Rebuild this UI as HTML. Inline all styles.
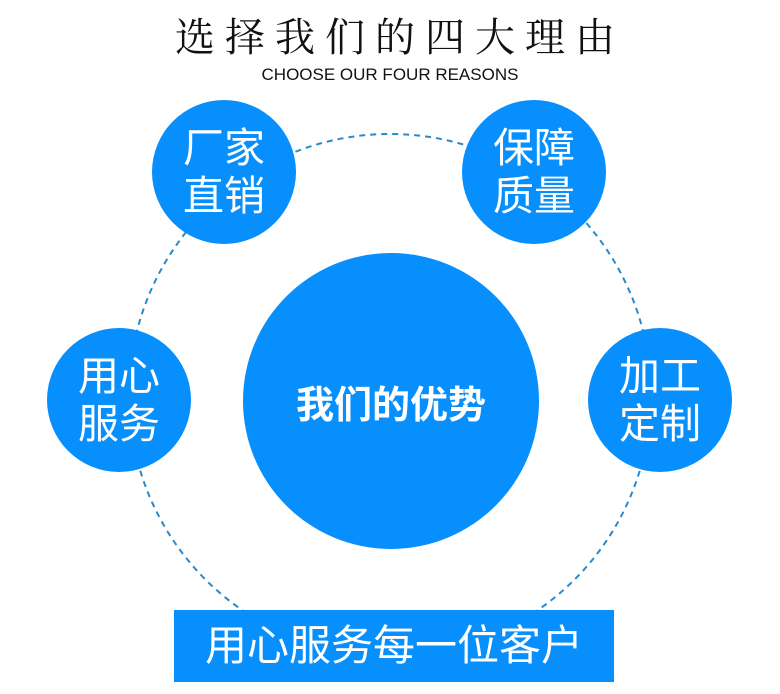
<!DOCTYPE html>
<html><head><meta charset="utf-8"><style>
body{margin:0;width:780px;height:694px;background:#fff;position:relative;overflow:hidden;font-family:"Liberation Sans","Noto Sans CJK SC",sans-serif}
.t{position:absolute;left:0;width:780px;text-align:center}
.c{position:absolute;border-radius:50%;background:#068ffd;color:#fff;display:flex;align-items:center;justify-content:center;text-align:center}
.s{width:144px;height:144px;font-size:41px;line-height:48px}
</style></head><body>
<div class="t" style="top:6px;font-family:'Liberation Serif','Noto Serif CJK SC',serif;font-size:40px;letter-spacing:10px;padding-left:10px;color:#111">选择我们的四大理由</div>
<div class="t" style="top:65px;font-size:17px;color:#111">CHOOSE OUR FOUR REASONS</div>
<svg style="position:absolute;left:0;top:0" width="780" height="694"><circle cx="390" cy="395" r="261" fill="none" stroke="#2a8ac8" stroke-width="2" stroke-dasharray="6,5"/></svg>
<div class="c" style="left:243px;top:253px;width:296px;height:296px;font-size:38px;font-weight:bold">我们的优势</div>
<div class="c s" style="left:152px;top:100px">厂家<br>直销</div>
<div class="c s" style="left:462px;top:100px">保障<br>质量</div>
<div class="c s" style="left:47px;top:328px">用心<br>服务</div>
<div class="c s" style="left:588px;top:328px">加工<br>定制</div>
<div style="position:absolute;left:174px;top:610px;width:440px;height:72px;background:#068ffd;color:#fff;font-size:42px;line-height:72px;text-align:center">用心服务每一位客户</div>
</body></html>
